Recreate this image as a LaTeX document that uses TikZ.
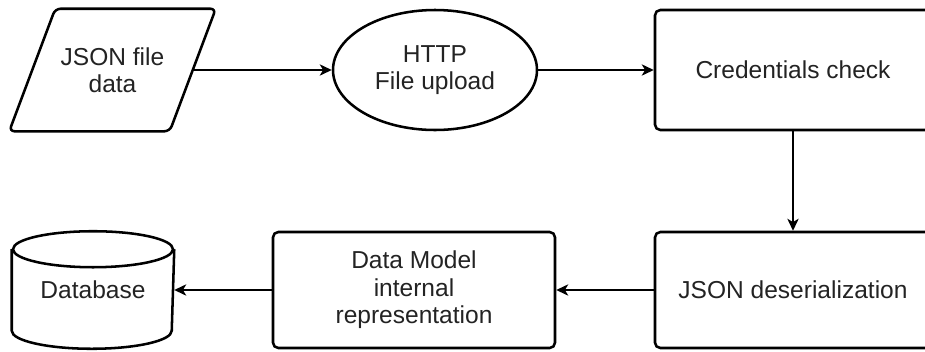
\documentclass[tikz,border=0pt]{standalone}
\usepackage{fontspec}
\setmainfont{Liberation Sans}
\usetikzlibrary{shapes.geometric,arrows.meta,calc}

\tikzset{every picture/.style={line width=0.75pt}}
\tikzset{
  shp/.style={draw, line width=1.9pt, text={rgb,255:red,35;green,35;blue,35}, align=center, font=\fontsize{18.4}{20.6}\selectfont, inner sep=0pt},
  boxshp/.style={shp, rectangle, rounded corners=4pt},
  flow/.style={line width=1.1pt, -{Stealth[length=9pt,width=8.5pt,inset=2.5pt]}}
}

\begin{document}
\begin{tikzpicture}[x=0.75pt,y=0.75pt,yscale=-1,xscale=1]
	\useasboundingbox (0,0) rectangle (925,351);
	
	%Shape: Parallelogram
	\node [shp, draw=none, minimum width=118.5pt, minimum height=90pt] (jsonfile) at (112.5,70) {JSON file\\data};
	\draw [line width=1.9pt, rounded corners=4pt] ($(jsonfile.north west)+(23,0)$) -- ($(jsonfile.north east)+(23,0)$) -- ($(jsonfile.south east)+(-23,0)$) -- ($(jsonfile.south west)+(-23,0)$) -- cycle ;
	%Shape: Ellipse
	\node [shp, ellipse, minimum width=153pt, minimum height=90pt] (upload) at (435,70) {HTTP\\File upload};
	%Shape: Rectangle
	\node [boxshp, minimum width=207pt, minimum height=90pt] (cred) at (793,70) {Credentials check};
	\node [boxshp, minimum width=207pt, minimum height=87pt] (deser) at (793,290) {JSON deserialization};
	\node [boxshp, minimum width=211.5pt, minimum height=87pt] (model) at (414,290) {Data Model\\internal\\representation};
	%Shape: Can
	\node [shp, draw=none, minimum width=120pt, minimum height=86.25pt] (db) at (93,290) {Database};
	\draw [line width=1.9pt] ($(db.north west)+(0,18)$) -- ($(db.south west)+(0,-18)$) arc [start angle=180, end angle=0, x radius=80, y radius=18] -- ($(db.north east)+(0,18)$) ;
	\draw [line width=1.9pt] ($(db.north)+(0,18)$) ellipse [x radius=80, y radius=18] ;
	
	\draw [flow] (jsonfile.east) -- (upload) ;
	\draw [flow] (upload) -- (cred) ;
	\draw [flow] (cred) -- (deser) ;
	\draw [flow] (deser) -- (model) ;
	\draw [flow] (model) -- (db) ;
	
\end{tikzpicture}
\end{document}
